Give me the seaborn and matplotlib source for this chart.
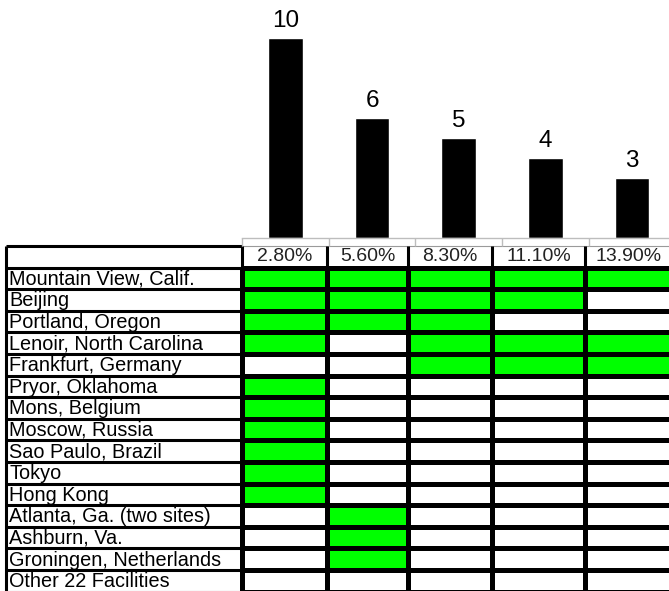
import matplotlib
matplotlib.use("Agg")
import numpy as np
import pandas as pd
import seaborn as sns
import matplotlib.pyplot as plt
from matplotlib.colors import ListedColormap

# Column headers (rates) and how many sites are marked in each column
rates = ["2.80%", "5.60%", "8.30%", "11.10%", "13.90%"]
counts = [10, 6, 5, 4, 3]

sites = [
    "Mountain View, Calif.",
    "Beijing",
    "Portland, Oregon",
    "Lenoir, North Carolina",
    "Frankfurt, Germany",
    "Pryor, Oklahoma",
    "Mons, Belgium",
    "Moscow, Russia",
    "Sao Paulo, Brazil",
    "Tokyo",
    "Hong Kong",
    "Atlanta, Ga. (two sites)",
    "Ashburn, Va.",
    "Groningen, Netherlands",
    "Other 22 Facilities",
]

# 1 = site marked under that rate column
coverage = [
    [1, 1, 1, 1, 1],
    [1, 1, 1, 1, 0],
    [1, 1, 1, 0, 0],
    [1, 0, 1, 1, 1],
    [0, 0, 1, 1, 1],
    [1, 0, 0, 0, 0],
    [1, 0, 0, 0, 0],
    [1, 0, 0, 0, 0],
    [1, 0, 0, 0, 0],
    [1, 0, 0, 0, 0],
    [1, 0, 0, 0, 0],
    [0, 1, 0, 0, 0],
    [0, 1, 0, 0, 0],
    [0, 1, 0, 0, 0],
    [0, 0, 0, 0, 0],
]

sns.set_theme(style="white")
plt.rcParams["font.family"] = ["Liberation Sans", "DejaVu Sans"]

W, H = 669, 591
fig = plt.figure(figsize=(W / 100, H / 100), dpi=100)

# ---- table (pixel-based coordinates) ----
tab = fig.add_axes([0, 0, 1, 1])
tab.set_xlim(0, W)
tab.set_ylim(H, 0)
tab.axis("off")

left_x, label_right = 6, 242
col_edges = np.array([242, 327, 408, 492, 585, 672])
header_top = 246
row_h = 21.6
row_edges = header_top + row_h * np.arange(len(sites) + 2)  # header + site rows
body_edges = row_edges[1:]

green_map = ListedColormap(["white", "#00ff00"])
tab.pcolormesh(col_edges, body_edges, np.array(coverage), cmap=green_map,
               vmin=0, vmax=1, edgecolors="black", linewidth=2.2)

# grid of the label column and header row
tab.hlines(row_edges[1:], left_x, label_right, color="black", lw=2.2)
tab.hlines(header_top, left_x, label_right, color="black", lw=2.2)
tab.hlines(header_top, label_right, 672, color="#9a9a9a", lw=0.8)
tab.vlines([left_x, label_right], header_top, row_edges[-1], color="black", lw=2.2)
tab.vlines(col_edges[1:-1], header_top, row_edges[1], color="black", lw=2.2)

for i, name in enumerate(sites):
    tab.text(left_x + 3, body_edges[i + 1] - 4.5, name, fontsize=14.3,
             color="black", va="baseline", ha="left")

for j, rate in enumerate(rates):
    cx = (col_edges[j] + col_edges[j + 1]) / 2
    tab.text(cx, row_edges[1] - 6.5, rate, fontsize=14, color="#222222",
             va="baseline", ha="center")

# ---- bar chart above the table ----
bar_ax = fig.add_axes([242 / W, 1 - 238 / H, 433.5 / W, 238 / H])
df = pd.DataFrame({"rate": rates, "count": counts})
sns.barplot(data=df, x="rate", y="count", color="black", saturation=1,
            width=0.4, ax=bar_ax)
bar_ax.set_ylim(0, 11.9)
bar_ax.set_xlim(-0.5, len(rates) - 0.5)
bar_ax.bar_label(bar_ax.containers[0], labels=[str(c) for c in counts],
                 fontsize=17.5, padding=4, color="black")
bar_ax.set_facecolor("none")
for side in ["top", "left", "right"]:
    bar_ax.spines[side].set_visible(False)
bar_ax.spines["bottom"].set_color("#bdbdbd")
bar_ax.spines["bottom"].set_linewidth(1)
bar_ax.set_xticks(np.arange(-0.5, len(rates), 1))
bar_ax.set_xticklabels([])
bar_ax.tick_params(axis="x", bottom=True, length=5.5, width=1,
                   color="#bdbdbd", direction="out")
bar_ax.set_yticks([])
bar_ax.set_xlabel("")
bar_ax.set_ylabel("")

fig.savefig("out.png", dpi=100)
